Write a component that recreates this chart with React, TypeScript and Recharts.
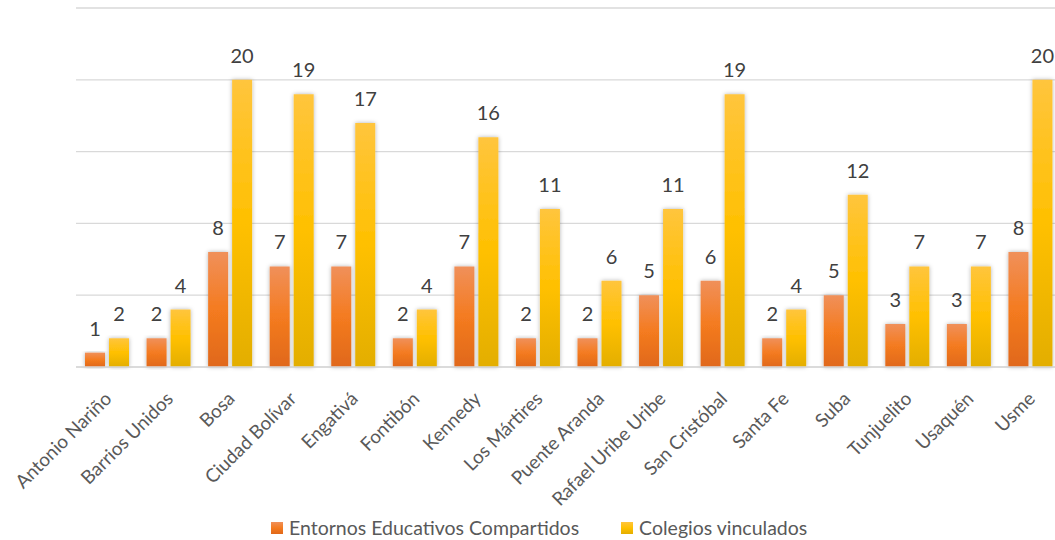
import { BarChart, Bar, XAxis, YAxis, CartesianGrid, LabelList } from 'recharts';

const localidades = [
  'Antonio Nariño', 'Barrios Unidos', 'Bosa', 'Ciudad Bolívar', 'Engativá', 'Fontibón',
  'Kennedy', 'Los Mártires', 'Puente Aranda', 'Rafael Uribe Uribe', 'San Cristóbal',
  'Santa Fe', 'Suba', 'Tunjuelito', 'Usaquén', 'Usme',
];
const entornos = [1, 2, 8, 7, 7, 2, 7, 2, 2, 5, 6, 2, 5, 3, 3, 8];
const colegios = [2, 4, 20, 19, 17, 4, 16, 11, 6, 11, 19, 4, 12, 7, 7, 20];
const yTicks = [0, 5, 10, 15, 20, 25];

const series = [
  { key: 'entornos', name: 'Entornos Educativos Compartidos', grad: 'gradOrange', swatch: 'linear-gradient(#f0905a, #f47b20 50%, #e0681a)' },
  { key: 'colegios', name: 'Colegios vinculados', grad: 'gradYellow', swatch: 'linear-gradient(#ffc53d, #ffc000 50%, #e3ae00)' },
];

const data = localidades.map((name, i) => ({ name, entornos: entornos[i], colegios: colegios[i] }));

const FONT = 'Lato, "Open Sans", sans-serif';

function Tick({ x, y, payload }: any) {
  const ax = x + 6;
  const ay = y + 25;
  return (
    <text
      x={ax}
      y={ay}
      textAnchor="end"
      transform={`rotate(-45 ${ax},${ay})`}
      fill="#595959"
      fontSize={18.8}
      fontFamily={FONT}
    >
      {payload.value}
    </text>
  );
}

export default function App() {
  return (
    <div style={{ position: 'absolute', left: 0, top: 0, width: 1055, height: 540, overflow: 'hidden', background: '#fff' }}>
      <BarChart
        width={1062}
        height={540}
        data={data}
        margin={{ top: 8, right: 1, left: 76, bottom: 0 }}
        barSize={20}
        barGap={4}
      >
        <defs>
          <linearGradient id="gradOrange" x1="0" y1="0" x2="0" y2="1">
            <stop offset="0%" stopColor="#f0905a" />
            <stop offset="50%" stopColor="#f47b20" />
            <stop offset="100%" stopColor="#e0681a" />
          </linearGradient>
          <linearGradient id="gradYellow" x1="0" y1="0" x2="0" y2="1">
            <stop offset="0%" stopColor="#ffc53d" />
            <stop offset="50%" stopColor="#ffc000" />
            <stop offset="100%" stopColor="#e3ae00" />
          </linearGradient>
          <filter id="barShadow" x="-30%" y="-10%" width="160%" height="120%">
            <feDropShadow dx="0" dy="0" stdDeviation="2" floodColor="#000" floodOpacity="0.3" />
          </filter>
        </defs>
        <CartesianGrid vertical={false} stroke="#d9d9d9" strokeWidth={1.3} />
        <XAxis
          dataKey="name"
          interval={0}
          height={173}
          tick={<Tick />}
          tickLine={false}
          axisLine={{ stroke: '#d9d9d9', strokeWidth: 1.3 }}
        />
        <YAxis hide width={0} domain={[0, 25]} ticks={yTicks} />
        {series.map((s) => (
          <Bar
            key={s.key}
            dataKey={s.key}
            name={s.name}
            fill={`url(#${s.grad})`}
            filter="url(#barShadow)"
            isAnimationActive={false}
          >
            <LabelList dataKey={s.key} position="top" offset={17} fill="#404040" fontSize={20} fontFamily={FONT} />
          </Bar>
        ))}
      </BarChart>
      <div
        style={{
          position: 'absolute',
          top: 516,
          left: 271,
          display: 'flex',
          gap: 42,
          fontFamily: FONT,
          fontSize: 19.5,
          lineHeight: '23px',
          color: '#595959',
          whiteSpace: 'nowrap',
        }}
      >
        {series.map((s) => (
          <div key={s.key} style={{ display: 'flex', alignItems: 'center' }}>
            <span style={{ width: 12, height: 12, background: s.swatch, marginRight: 6, display: 'inline-block' }} />
            <span>{s.name}</span>
          </div>
        ))}
      </div>
    </div>
  );
}
